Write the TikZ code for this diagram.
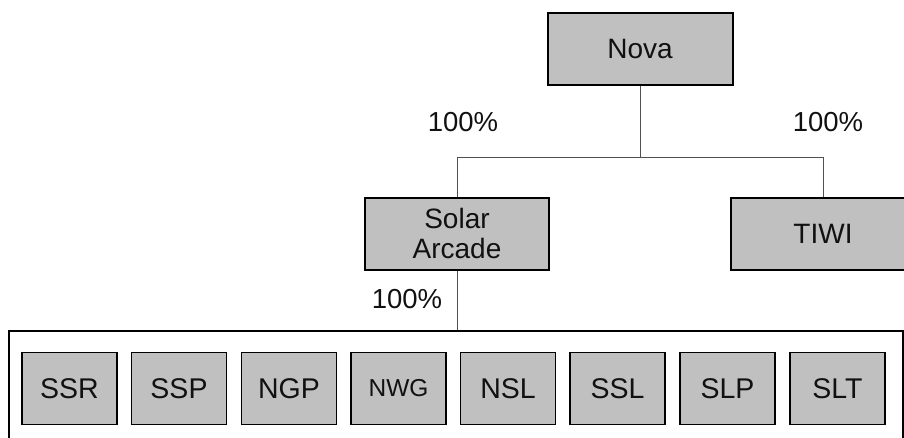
\documentclass[tikz,border=0pt]{standalone}
\usepackage{fontspec}
\setmainfont{Liberation Sans}
\definecolor{boxgray}{HTML}{C0C0C0}
\definecolor{linegray}{HTML}{505050}
\definecolor{txt}{HTML}{111111}
\begin{document}
\begin{tikzpicture}[x=1pt,y=-1pt,
  org/.style={draw=black,line width=2pt,fill=boxgray,minimum width=184pt,minimum height=72pt,inner sep=0pt,text=txt,font=\fontsize{28}{30}\selectfont,align=center},
  sub/.style={draw=black,line width=1.8pt,fill=boxgray,minimum width=95pt,minimum height=72pt,inner sep=0pt,text=txt,font=\fontsize{28.5}{30}\selectfont},
  pct/.style={text=txt,font=\fontsize{27.5}{30}\selectfont,inner sep=0pt},
  conn/.style={draw=linegray,line width=1pt}]
\useasboundingbox (0,0) rectangle (904,437);
\clip (0,0) rectangle (904,437);
\node[org,minimum width=185pt] (nova) at (640,49) {Nova};
\node[org] (solar) at (457,233.5) {Solar\\Arcade};
\node[org] (tiwi) at (823,234) {TIWI};
\node[draw=black,line width=2pt,minimum width=894pt,minimum height=119pt,inner sep=0pt] (grp) at (456,390.5) {};
\node[pct] (p1) at (463,122) {100\%};
\node[pct] (p2) at (828,122) {100\%};
\node[pct] (p3) at (407,299.5) {100\%};
\coordinate (bus) at (640,157);
\draw[conn] (nova.south) -- (bus);
\draw[conn] (bus) -| (solar.north);
\draw[conn] (bus) -| (tiwi.north);
\draw[conn] (solar.south) -- (solar.south |- grp.north);
\node[sub] (b1) at (69.5,388.5) {SSR};
\node[sub] (b2) at (179,388.5) {SSP};
\node[sub] (b3) at (289,388.5) {NGP};
\node[sub,font=\fontsize{24.5}{28}\selectfont] (b4) at (398.5,388.5) {NWG};
\node[sub] (b5) at (508,388.5) {NSL};
\node[sub] (b6) at (617.5,388.5) {SSL};
\node[sub] (b7) at (727.5,388.5) {SLP};
\node[sub] (b8) at (837.5,388.5) {SLT};
\end{tikzpicture}
\end{document}
